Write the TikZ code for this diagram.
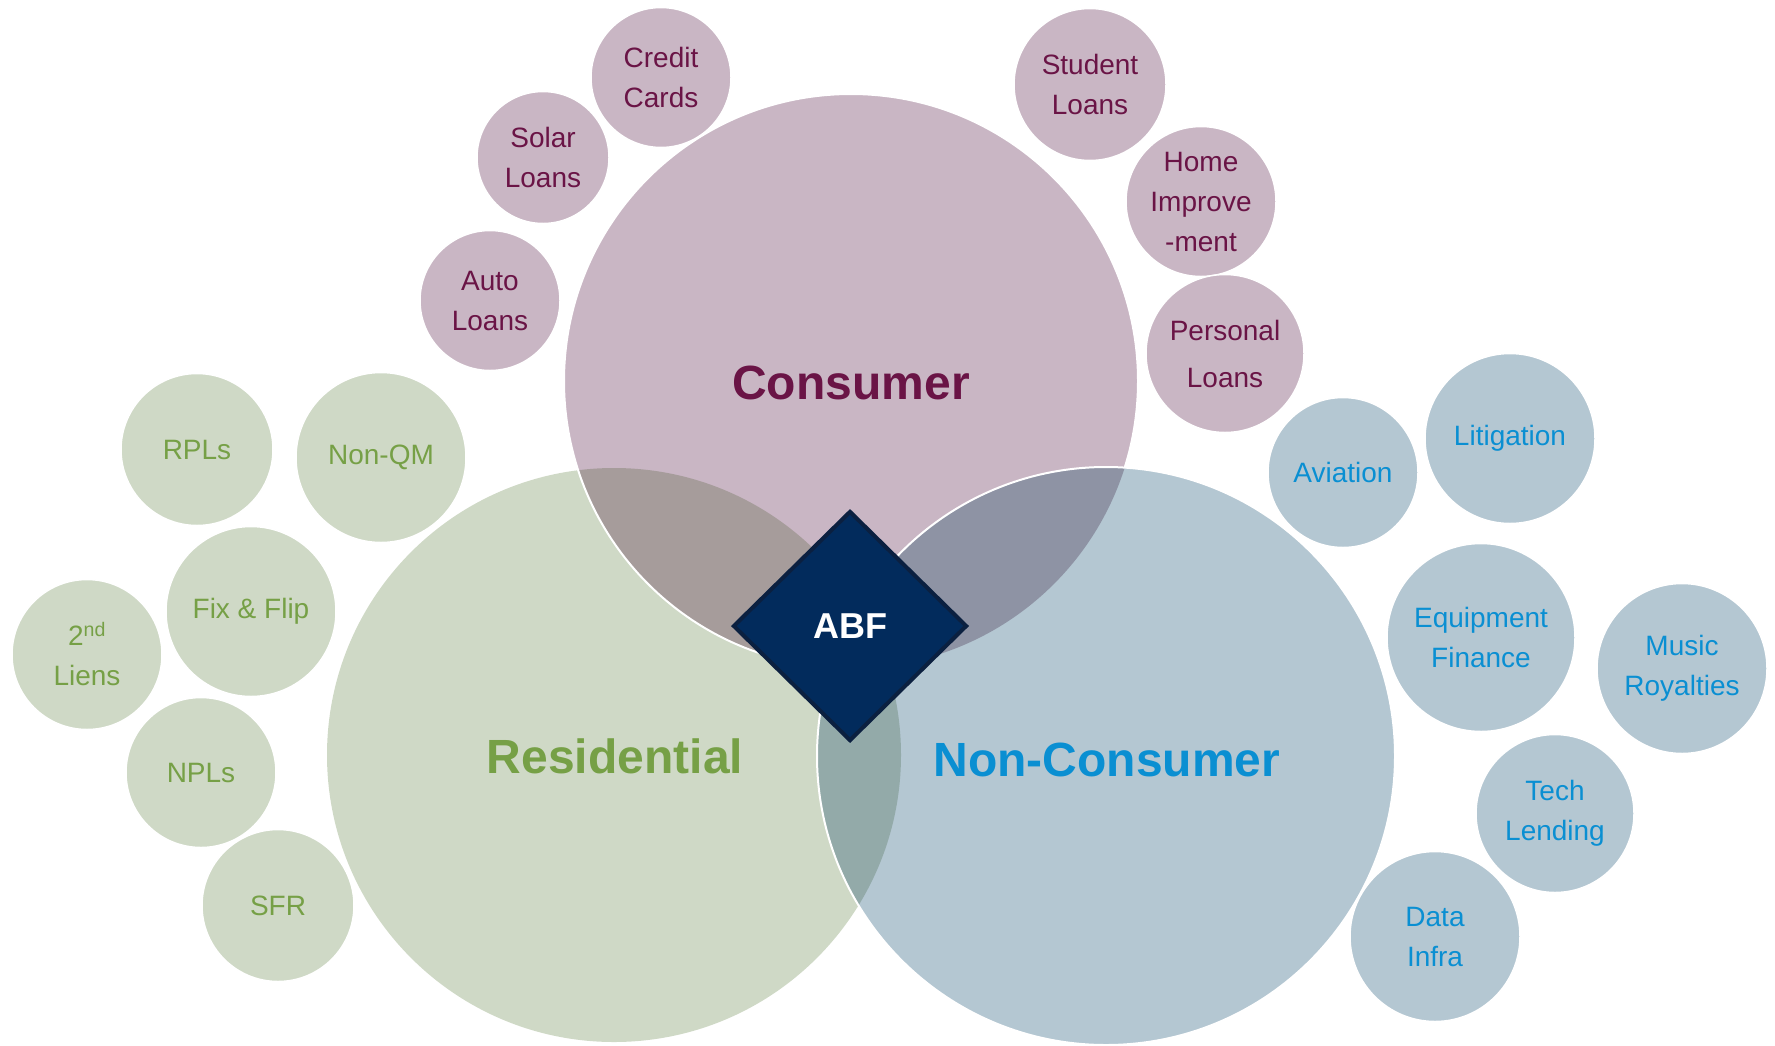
\documentclass[tikz,border=0pt]{standalone}
\usepackage{fontspec}
\setmainfont{Liberation Sans}
\usetikzlibrary{shapes.geometric}

\definecolor{consfill}{HTML}{C9B6C4}
\definecolor{resfill}{HTML}{CFD9C6}
\definecolor{noncfill}{HTML}{B4C7D2}
\definecolor{rescons}{HTML}{A69C9B}
\definecolor{consnonc}{HTML}{8E93A4}
\definecolor{resnonc}{HTML}{93AAA9}
\definecolor{constext}{HTML}{6A1446}
\definecolor{restext}{HTML}{76A046}
\definecolor{nonctext}{HTML}{0A8FD2}
\definecolor{abffill}{HTML}{022B5C}
\definecolor{abfline}{HTML}{0B2040}

\begin{document}
\begin{tikzpicture}[x=1pt,y=-1pt,
  rim/.style={draw=white,line width=2pt},
  bubble/.style={circle,draw=white,line width=1.5pt,inner sep=0pt,align=center,
    yshift=-1.5pt,font=\fontsize{28}{40}\selectfont},
  consbub/.style={bubble,fill=consfill,text=constext},
  resbub/.style={bubble,fill=resfill,text=restext},
  noncbub/.style={bubble,fill=noncfill,text=nonctext},
  biglabel/.style={font=\bfseries\fontsize{48}{56}\selectfont}]
\useasboundingbox (0,0) rectangle (1775,1045);

\coordinate (cons) at (851,381);
\coordinate (res) at (614,755);
\coordinate (nonc) at (1106,756);

% the three overlapping sectors
\fill[resfill] (res) circle[radius=287pt];
\fill[consfill] (cons) circle[radius=287pt];
\begin{scope}
  \clip (cons) circle[radius=287pt];
  \fill[rescons] (res) circle[radius=287pt];
\end{scope}
\draw[rim] (cons) circle[radius=287pt];
\fill[noncfill] (nonc) circle[radius=289pt];
\begin{scope}
  \clip (nonc) circle[radius=289pt];
  \fill[consnonc] (cons) circle[radius=287pt];
  \fill[resnonc] (res) circle[radius=287pt];
\end{scope}
\draw[rim] (nonc) circle[radius=289pt];

\node[biglabel,text=constext] (consumer) at (851,383) {Consumer};
\node[biglabel,text=restext] (residential) at (615,756) {Residential};
\node[biglabel,text=nonctext] (nonconsumer) at (1107,760) {Non-Consumer};

% sub-sector bubbles
\foreach \n/\x/\y/\r/\t in {credit/661/76/70/{Credit\\Cards},
    solar/543/156/66/{Solar\\Loans},
    auto/490/299/70/{Auto\\Loans},
    student/1090/83/76/{Student\\Loans},
    homeimp/1201/200/75/{Home\\Improve\\-ment},
    personal/1225/352/79/{Personal\\[7pt]Loans}}
  \node[consbub,minimum size={2*\r pt}] (\n) at (\x,\y) {\t};

\foreach \n/\x/\y/\r/\t in {rpl/197/448/76/{RPLs},
    nonqm/381/456/85/{Non-QM},
    fixflip/251/610/85/{Fix \& Flip},
    liens/87/653/75/{2\textsuperscript{nd}\\Liens},
    npl/201/771/75/{NPLs},
    sfr/278/904/76/{SFR}}
  \node[resbub,minimum size={2*\r pt}] (\n) at (\x,\y) {\t};

\foreach \n/\x/\y/\r/\t in {aviation/1343/471/75/{Aviation},
    litigation/1510/437/85/{Litigation},
    equipment/1481/636/94/{Equipment\\Finance},
    music/1682/667/85/{Music\\Royalties},
    tech/1555/812/79/{Tech\\Lending},
    datainfra/1435/935/85/{Data\\Infra}}
  \node[noncbub,minimum size={2*\r pt}] (\n) at (\x,\y) {\t};

\node[diamond,fill=abffill,draw=abfline,line width=4pt,inner sep=0pt,
  minimum width=234pt,minimum height=230pt,text=white,
  font=\bfseries\fontsize{36}{40}\selectfont] (abf) at (850,626) {ABF};
\end{tikzpicture}
\end{document}
